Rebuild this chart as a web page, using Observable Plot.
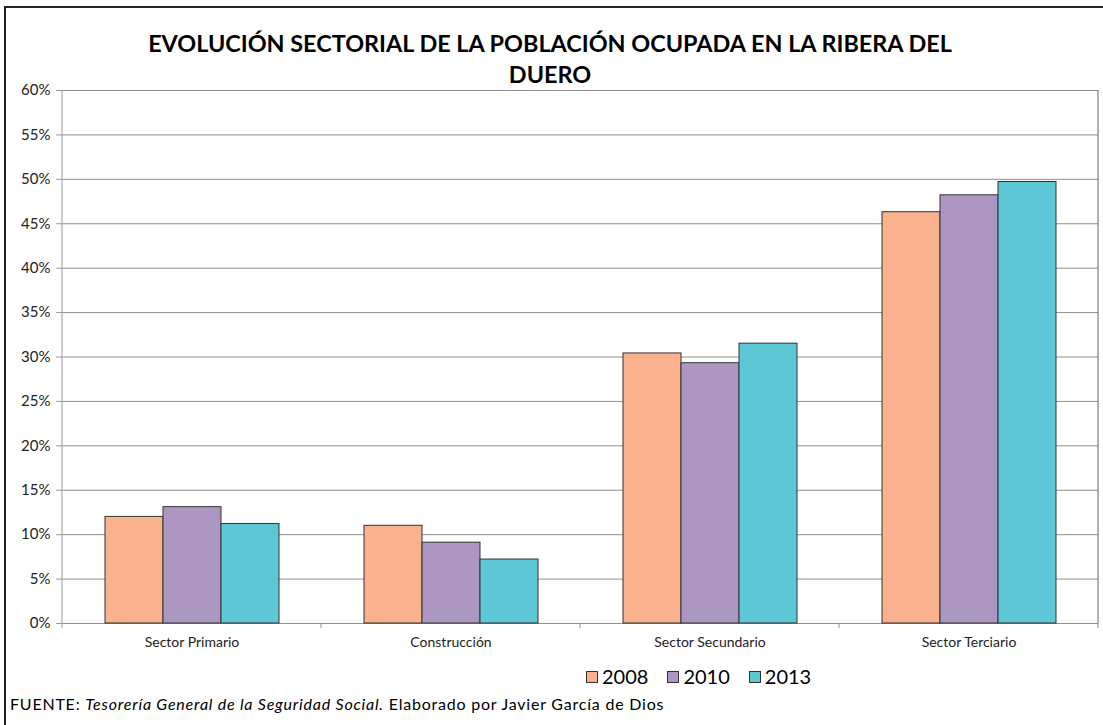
<!DOCTYPE html>
<html>
<head>
<meta charset="utf-8">
<script src="https://cdn.jsdelivr.net/npm/d3@7"></script>
<script src="https://cdn.jsdelivr.net/npm/@observablehq/plot@0.6"></script>
<style>
  body { margin:0; background:#fff; width:1103px; height:725px; overflow:hidden; position:relative; font-family:Lato, "Open Sans", sans-serif; color:#111; }
  #border { position:absolute; left:4px; top:6px; width:1200px; height:800px; border:2px solid #222; }
  #title { position:absolute; left:0; top:28px; width:1100px; text-align:center; font-weight:bold; font-size:23.4px; line-height:31px; color:#000; }
  #chart { position:absolute; left:0; top:80px; }
  #legend { position:absolute; left:586px; top:663px; font-size:20px; line-height:26px; white-space:nowrap; color:#000; }
  #legend .item { display:inline-block; margin-right:19px; }
  #legend .sw { display:inline-block; width:10px; height:10px; border:1px solid #333; margin-right:4px; vertical-align:1px; }
  #footer { position:absolute; left:10px; top:694px; font-size:16px; letter-spacing:0.78px; color:#000; white-space:nowrap; }
</style>
</head>
<body>
<div id="border"></div>
<div id="title">EVOLUCIÓN SECTORIAL DE LA POBLACIÓN OCUPADA EN LA RIBERA DEL<br>DUERO</div>
<div id="chart"></div>
<div id="legend"></div>
<div id="footer">FUENTE: <i>Tesorería General de la Seguridad Social.</i> Elaborado por Javier García de Dios</div>
<script>
const sectors = ["Sector Primario", "Construcción", "Sector Secundario", "Sector Terciario"];
const years = ["2008", "2010", "2013"];
const v2008 = [12.0, 11.0, 30.4, 46.3];
const v2010 = [13.1, 9.1, 29.3, 48.2];
const v2013 = [11.2, 7.2, 31.5, 49.7];
const colors = ["#F9B18E", "#AC97C3", "#5EC7D6"];
const yTicks = [0, 5, 10, 15, 20, 25, 30, 35, 40, 45, 50, 55, 60];

const series = [v2008, v2010, v2013];
const data = sectors.flatMap((s, i) => years.map((yr, j) => ({sector: s, year: yr, value: series[j][i]})));

const plot = Plot.plot({
  width: 1103,
  height: 578,
  marginLeft: 62,
  marginRight: 5,
  marginTop: 10,
  marginBottom: 35,
  style: {fontFamily: "Lato, sans-serif", fontSize: "14px", color: "#222", background: "transparent", overflow: "visible"},
  fx: {domain: sectors, padding: 0, label: null},
  x: {domain: years, paddingInner: 0, paddingOuter: 0.73, axis: null},
  y: {domain: [0, 60], label: null},
  color: {domain: years, range: colors},
  marks: [
    Plot.gridY(yTicks, {stroke: "#8f8f8f", strokeOpacity: 1, strokeWidth: 1}),
    Plot.axisY(yTicks, {tickFormat: d => d + "%", tickSize: 6, tickPadding: 6, label: null, stroke: "#999", fontSize: 15}),
    Plot.axisFx({anchor: "bottom", tickSize: 0, tickPadding: 14, label: null, fontSize: 14}),
    Plot.barY(data, {fx: "sector", x: "year", y: "value", fill: "year", stroke: "#333", strokeWidth: 1})
  ]
});
document.getElementById("chart").appendChild(plot);

// axis lines and boundary ticks positioned with the plot's own scales
const fx = plot.scale("fx"), y = plot.scale("y");
const svg = d3.select(plot);
const y0 = y.apply(0), yTop = y.apply(60);
const left = fx.apply(sectors[0]);
const g = svg.append("g").attr("stroke", "#8f8f8f").attr("stroke-width", 1);
g.append("line").attr("x1", left).attr("x2", left).attr("y1", yTop).attr("y2", y0 + 5).attr("stroke", "#999");
sectors.forEach(s => {
  const xr = fx.apply(s) + fx.bandwidth;
  g.append("line").attr("x1", xr).attr("x2", xr).attr("y1", y0).attr("y2", y0 + 5);
});
const right = fx.apply(sectors[sectors.length - 1]) + fx.bandwidth;
g.append("line").attr("x1", right).attr("x2", right).attr("y1", yTop).attr("y2", y0).attr("stroke", "#666");

// legend
const legend = d3.select("#legend");
years.forEach((yr, i) => {
  const it = legend.append("span").attr("class", "item");
  it.append("span").attr("class", "sw").style("background", colors[i]);
  it.append("span").text(yr);
});
</script>
</body>
</html>
